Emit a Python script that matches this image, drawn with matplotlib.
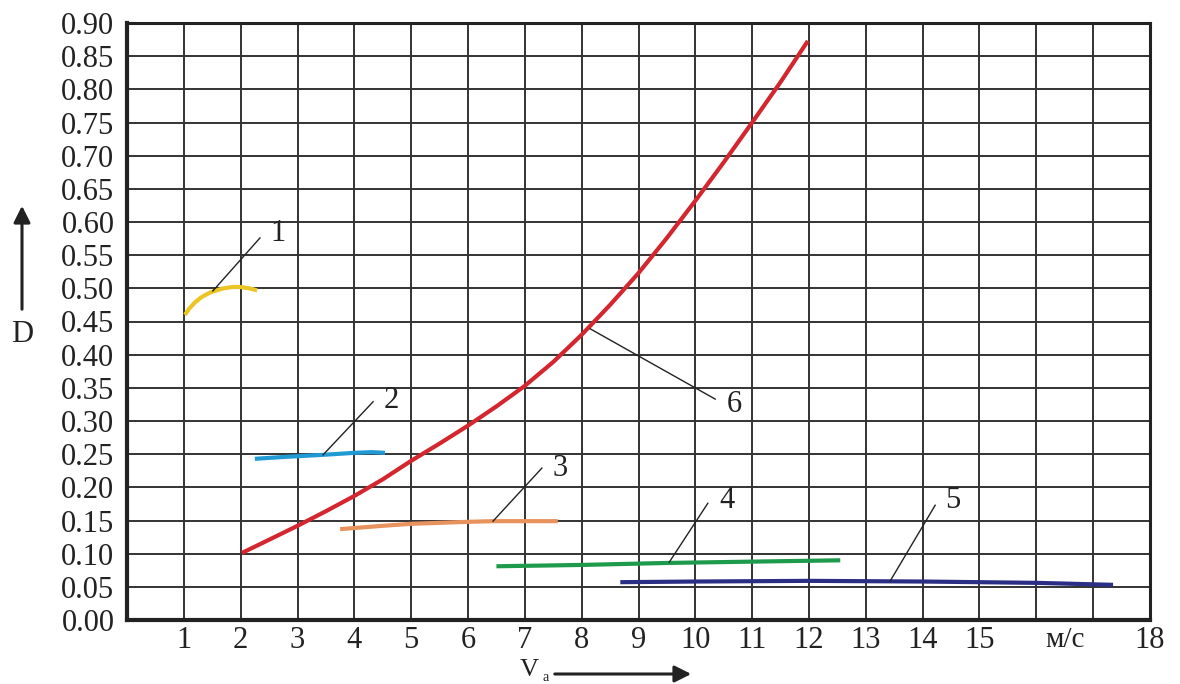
import matplotlib
matplotlib.use("Agg")

import matplotlib.pyplot as plt

# Kurven, V_a in m/s, D dimensionslos
curve1_x = [1.02, 1.1, 1.2, 1.3, 1.4, 1.5, 1.7, 1.85, 2.0, 2.15, 2.29]
curve1_y = [0.460, 0.470, 0.479, 0.486, 0.491, 0.495, 0.500, 0.502, 0.502, 0.500, 0.497]

curve2_x = [2.25, 2.8, 3.45, 4.0, 4.3, 4.54]
curve2_y = [0.243, 0.246, 0.249, 0.252, 0.253, 0.252]

curve3_x = [3.75, 4.5, 5.0, 6.0, 6.45, 7.0, 7.58]
curve3_y = [0.137, 0.142, 0.145, 0.148, 0.149, 0.149, 0.149]

curve4_x = [6.5, 8.0, 9.5, 11.0, 12.55]
curve4_y = [0.081, 0.083, 0.086, 0.088, 0.090]

curve5_x = [8.68, 10.0, 12.0, 14.0, 16.0, 17.35]
curve5_y = [0.057, 0.058, 0.059, 0.058, 0.056, 0.053]

curve6_x = [2.02, 2.5, 3.0, 3.5, 4.0, 4.5, 5.0, 5.5, 6.0, 6.5, 7.0, 7.5,
            8.0, 8.5, 9.0, 9.5, 10.0, 10.5, 11.0, 11.5, 11.98]
curve6_y = [0.101, 0.121, 0.142, 0.164, 0.187, 0.212, 0.240, 0.266, 0.293,
            0.322, 0.353, 0.389, 0.430, 0.475, 0.523, 0.576, 0.632, 0.690,
            0.750, 0.811, 0.873]

curves = [
    (curve1_x, curve1_y, "#EBC526"),
    (curve2_x, curve2_y, "#1F9AD3"),
    (curve3_x, curve3_y, "#E8935E"),
    (curve4_x, curve4_y, "#1E9A4C"),
    (curve5_x, curve5_y, "#2B2E85"),
    (curve6_x, curve6_y, "#D3262E"),
]

# Beschriftungen: Nummer, Punkt auf Kurve, Ende Hinweislinie, Textposition
labels = [
    ("1", (1.51, 0.496), (2.34, 0.576), (2.52, 0.582)),
    ("2", (3.45, 0.249), (4.33, 0.329), (4.52, 0.331)),
    ("3", (6.44, 0.149), (7.30, 0.229), (7.49, 0.228)),
    ("4", (9.54, 0.087), (10.22, 0.176), (10.42, 0.180)),
    ("5", (13.43, 0.059), (14.22, 0.173), (14.40, 0.180)),
    ("6", (8.15, 0.439), (10.35, 0.333), (10.55, 0.325)),
]

x_ticks = list(range(1, 19))
x_ticklabels = [str(i) for i in range(1, 16)] + ["", "", "18"]
y_ticks = [i * 0.05 for i in range(19)]
y_ticklabels = [f"{v:.2f}" for v in y_ticks]

SERIF = ["Liberation Serif", "DejaVu Serif"]
plt.rcParams["font.family"] = SERIF

W, H = 1180, 684
fig = plt.figure(figsize=(W / 100, H / 100), dpi=100)
ax = fig.add_axes([127 / W, 64 / H, 1023 / W, 597 / H])

ax.set_xlim(0, 18)
ax.set_ylim(0, 0.90)
ax.set_xticks(x_ticks)
ax.set_xticklabels(x_ticklabels)
ax.set_yticks(y_ticks)
ax.set_yticklabels(y_ticklabels)
ax.tick_params(length=0, labelsize=22, colors="#222222", pad=4)
ax.tick_params(axis="y", pad=9)
ax.grid(True, color="#333333", linewidth=1.4)
ax.set_axisbelow(True)

for side in ["left", "bottom"]:
    ax.spines[side].set_linewidth(3)
for side in ["top", "right"]:
    ax.spines[side].set_linewidth(2.2)
for sp in ax.spines.values():
    sp.set_color("#222222")

for xs, ys, col in curves:
    ax.plot(xs, ys, color=col, linewidth=3, solid_capstyle="butt", zorder=3)

for num, p0, p1, pt in labels:
    ax.plot([p0[0], p1[0]], [p0[1], p1[1]], color="#222222", linewidth=1.0, zorder=4)
    ax.text(pt[0], pt[1], num, fontsize=22, ha="left", va="center", color="#222222")

# Einheit auf der x-Achse
ax.text(16.5, -0.011, "м/с", fontsize=21, ha="center", va="top", color="#222222")

# Achsenbeschriftungen mit Pfeilen (ausserhalb der Achse)
fig.text(22 / W, 1 - 335 / H, "D", fontsize=22, ha="center", va="center", color="#222222")
ax.annotate("", xy=(22 / W, 1 - 203 / H), xytext=(22 / W, 1 - 312 / H),
            xycoords="figure fraction", textcoords="figure fraction",
            arrowprops=dict(arrowstyle="-|>", lw=2.2, color="#222222",
                            mutation_scale=25),
            annotation_clip=False)

fig.text(529 / W, 1 - 676 / H, "V", fontsize=19, ha="center", va="baseline", color="#222222")
fig.text(546 / W, 1 - 681 / H, "a", fontsize=10, ha="center", va="baseline", color="#222222")
ax.annotate("", xy=(694 / W, 1 - 674 / H), xytext=(552 / W, 1 - 674 / H),
            xycoords="figure fraction", textcoords="figure fraction",
            arrowprops=dict(arrowstyle="-|>", lw=2.2, color="#222222",
                            mutation_scale=25),
            annotation_clip=False)

fig.savefig("out.png", dpi=100, facecolor="white")
